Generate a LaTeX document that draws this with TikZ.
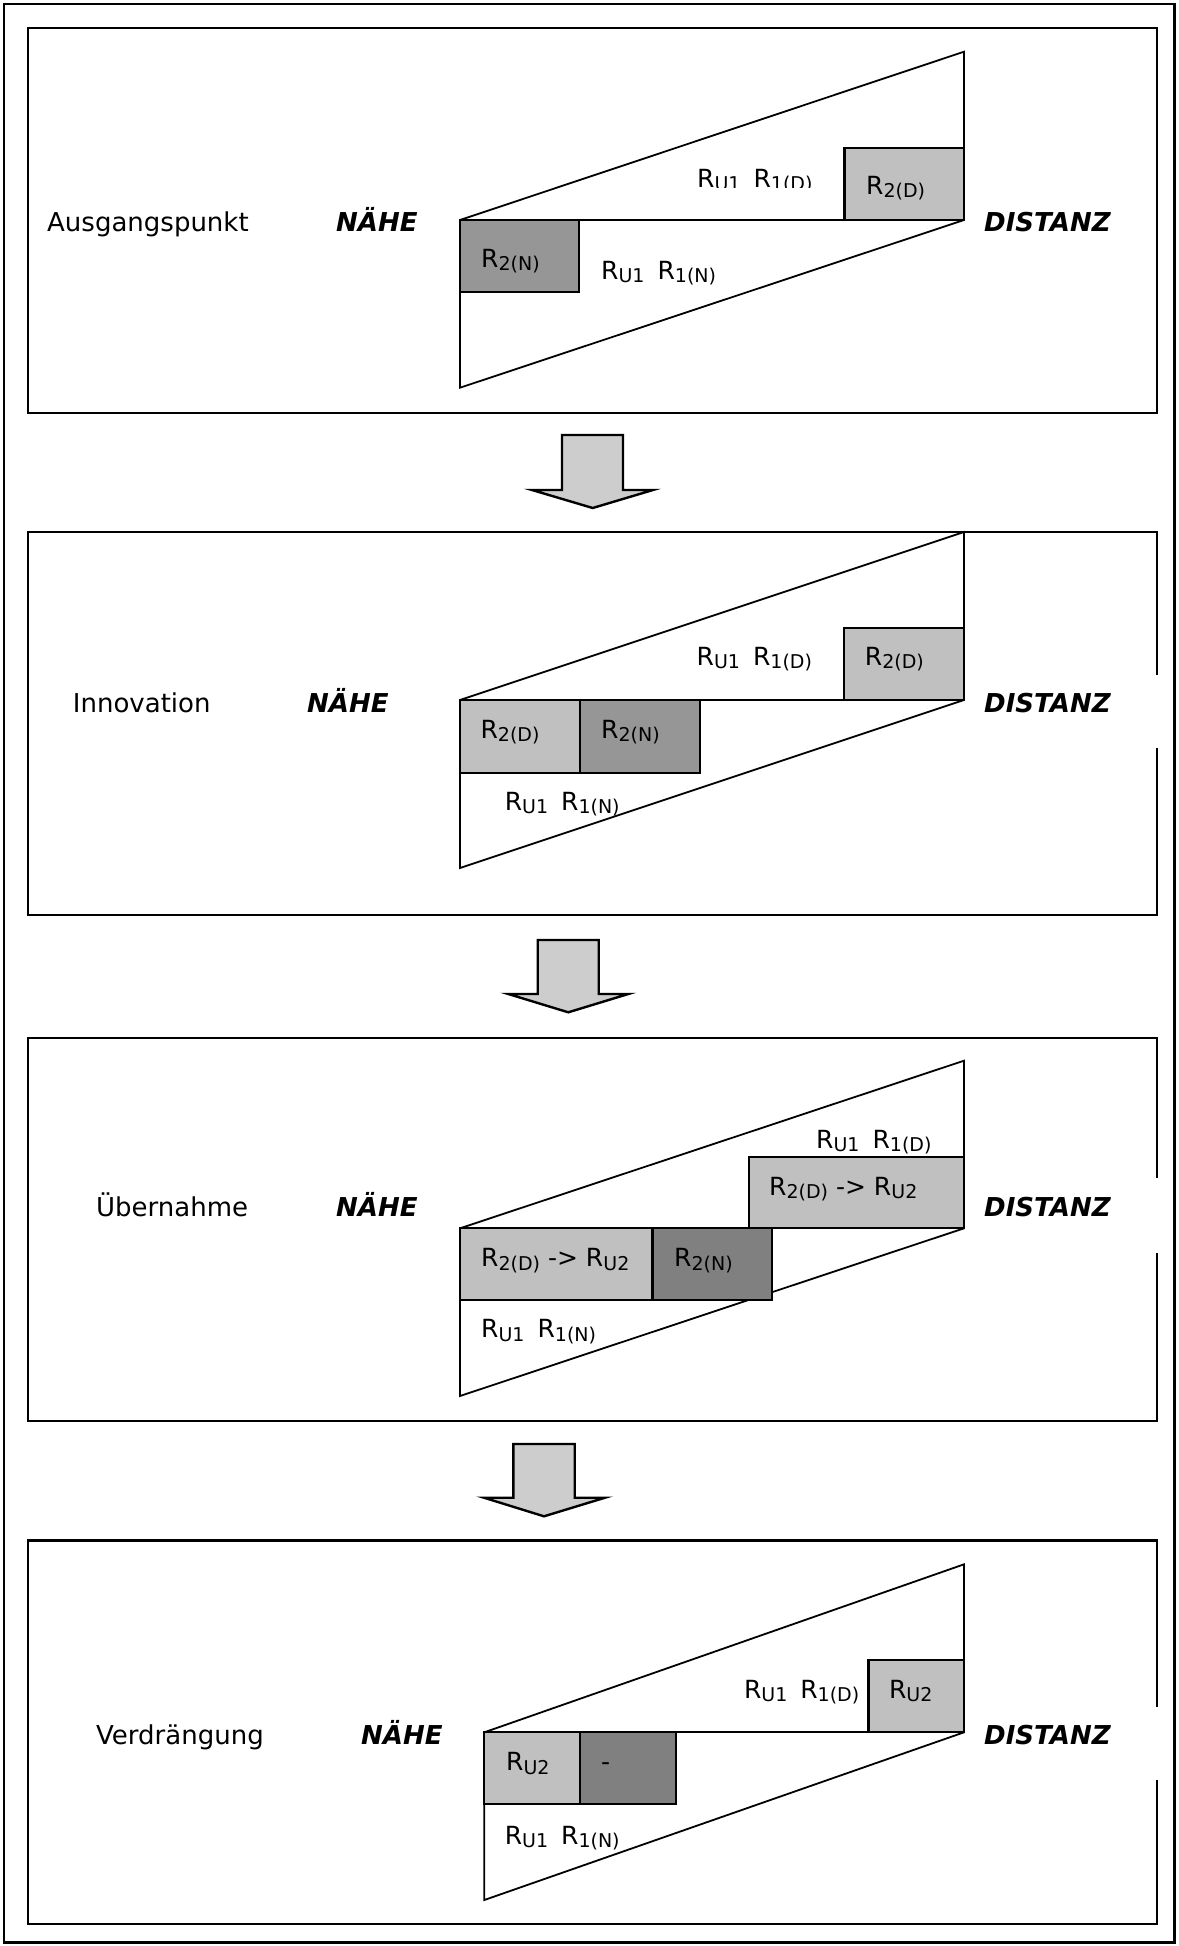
\documentclass[tikz,border=0pt]{standalone}
\usepackage{fontspec}
\setmainfont{DejaVu Sans}[ItalicFont={DejaVu Sans Oblique},BoldFont={DejaVu Sans Bold},BoldItalicFont={DejaVu Sans Bold Oblique}]
\definecolor{lightbox}{HTML}{C0C0C0}
\definecolor{darkboxA}{HTML}{969696}
\definecolor{darkboxB}{HTML}{808080}
\definecolor{arrowfill}{HTML}{CDCDCD}
\newcommand\Rsb[1]{R\raisebox{-3.5pt}{\fontsize{19}{20}\selectfont #1}}
\newcommand\RR[2]{\Rsb{#1}\hspace{13pt}\Rsb{#2}}
\begin{document}
\begin{tikzpicture}[x=1pt,y=-1pt,
  frame/.style={line width=2.4pt,draw=black},
  wedge/.style={line width=1.8pt,draw=black,line join=miter},
  lbl/.style={anchor=base west,inner sep=0pt,font=\fontsize{26}{30}\selectfont},
  pole/.style={anchor=base west,inner sep=0pt,font=\fontsize{26}{30}\selectfont\bfseries\itshape},
  rtxt/.style={anchor=base west,inner sep=0pt,font=\fontsize{25}{28}\selectfont},
  lbox/.style={fill=lightbox,draw=black,line width=2.2pt},
  dboxA/.style={fill=darkboxA,draw=black,line width=2.2pt},
  dboxB/.style={fill=darkboxB,draw=black,line width=2.2pt},
  bigarrow/.style={fill=arrowfill,draw=black,line width=2.4pt,line join=miter}
]
\useasboundingbox (0,0) rectangle (1178,1946);
% outer border
\draw[frame] (4,4) rectangle (1174.5,1942.5);

% ---------------- Panel 1 ----------------
\draw[frame] (28,28) rectangle (1157,412.7);
\draw[wedge] (460,220) -- (964,51.7) -- (964,220) -- (460,387.7) -- cycle;
\draw[wedge] (460,220) -- (964,220);
\draw[lbox] (844.5,147.7) rectangle (964,220);
\draw[dboxA] (460,220) rectangle (579,292.3);
\begin{scope}
\clip (600,100) rectangle (840,187.5);
\node[rtxt] (p1d) at (697,187) {\RR{U1}{1(D)}};
\end{scope}
\node[rtxt] (p1b1) at (866,194) {\Rsb{2(D)}};
\node[rtxt] (p1b2) at (481,267) {\Rsb{2(N)}};
\node[rtxt] (p1n) at (601,279) {\RR{U1}{1(N)}};
\node[lbl] (t1) at (47,231.5) {Ausgangspunkt};
\node[pole] (n1) at (336,231.5) {NÄHE};
\node[pole] (d1) at (984,231.5) {DISTANZ};

% arrow 1
\draw[bigarrow] (562,435) -- (623,435) -- (623,490) -- (653,490) -- (592.7,508) -- (532,490) -- (562,490) -- cycle;

% ---------------- Panel 2 ----------------
\draw[frame] (1157,675) -- (1157,532) -- (28,532) -- (28,915) -- (1157,915) -- (1157,748);
\draw[wedge] (460,700) -- (964,532) -- (964,700) -- (460,868) -- cycle;
\draw[wedge] (460,700) -- (964,700);
\draw[lbox] (844,627.7) rectangle (964,700);
\draw[lbox] (460,700) rectangle (580,772.7);
\draw[dboxA] (580,700) rectangle (700,772.7);
\node[rtxt] (p2d) at (696.5,665) {\RR{U1}{1(D)}};
\node[rtxt] (p2b1) at (864.7,665) {\Rsb{2(D)}};
\node[rtxt] (p2b2) at (480.4,738) {\Rsb{2(D)}};
\node[rtxt] (p2b3) at (601,738) {\Rsb{2(N)}};
\node[rtxt] (p2n) at (504.6,810) {\RR{U1}{1(N)}};
\node[lbl] (t2) at (72.7,712) {Innovation};
\node[pole] (n2) at (307,712) {NÄHE};
\node[pole] (d2) at (984,712) {DISTANZ};

% arrow 2
\draw[bigarrow] (537.7,940) -- (598.7,940) -- (598.7,994) -- (628.3,994) -- (568.3,1012.3) -- (508.3,994) -- (537.7,994) -- cycle;

% ---------------- Panel 3 ----------------
\draw[frame] (1157,1178) -- (1157,1038) -- (28,1038) -- (28,1420.7) -- (1157,1420.7) -- (1157,1253);
\draw[wedge] (460,1228.3) -- (964,1060.7) -- (964,1228.3) -- (460,1396) -- cycle;
\draw[wedge] (460,1228.3) -- (964,1228.3);
\draw[lbox] (748.7,1156.7) rectangle (964,1228.3);
\draw[lbox] (460,1228.3) rectangle (652.5,1300.3);
\draw[dboxB] (652.5,1228.3) rectangle (772,1300.3);
\node[rtxt] (p3d) at (816,1148.3) {\RR{U1}{1(D)}};
\node[rtxt] (p3b1) at (769,1195) {\Rsb{2(D)} -> \Rsb{U2}};
\node[rtxt] (p3b2) at (481,1266.7) {\Rsb{2(D)} -> \Rsb{U2}};
\node[rtxt] (p3b3) at (674,1266.7) {\Rsb{2(N)}};
\node[rtxt] (p3n) at (481,1337.7) {\RR{U1}{1(N)}};
\node[lbl] (t3) at (96,1216) {Übernahme};
\node[pole] (n3) at (336,1216) {NÄHE};
\node[pole] (d3) at (984,1216) {DISTANZ};

% arrow 3
\draw[bigarrow] (513.3,1444) -- (574.7,1444) -- (574.7,1497.7) -- (605,1497.7) -- (544,1516.3) -- (484,1497.7) -- (513.3,1497.7) -- cycle;

% ---------------- Panel 4 ----------------
\draw[frame] (1157,1706.7) -- (1157,1540.5) -- (28,1540.5) -- (28,1924) -- (1157,1924) -- (1157,1780);
\draw[wedge] (484.3,1732.3) -- (964,1564.3) -- (964,1732.3) -- (484.3,1900) -- cycle;
\draw[wedge] (484.3,1732.3) -- (964,1732.3);
\draw[lbox] (868.5,1660) rectangle (964,1732.3);
\draw[lbox] (484.3,1732.3) rectangle (580,1804.3);
\draw[dboxB] (580,1732.3) rectangle (676,1804.3);
\node[rtxt] (p4d) at (743.8,1698) {\RR{U1}{1(D)}};
\node[rtxt] (p4b1) at (888.8,1698) {\Rsb{U2}};
\node[rtxt] (p4b2) at (506,1770.7) {\Rsb{U2}};
\node[rtxt] (p4b3) at (601,1770.7) {-};
\node[rtxt] (p4n) at (504.6,1844) {\RR{U1}{1(N)}};
\node[lbl] (t4) at (96,1744.5) {Verdrängung};
\node[pole] (n4) at (361,1744.5) {NÄHE};
\node[pole] (d4) at (984,1744.5) {DISTANZ};
\end{tikzpicture}
\end{document}
